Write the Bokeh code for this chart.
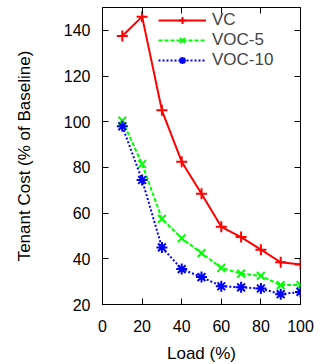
from bokeh.plotting import figure
from bokeh.models import LinearAxis, Legend, LegendItem, Range1d, FixedTicker
from bokeh.embed import file_html
from bokeh.resources import INLINE

load = [10, 20, 30, 40, 50, 60, 70, 80, 90, 100]
vc = [137.5, 146, 105, 82.5, 68.5, 54, 49.5, 44, 38.5, 37.5]
voc5 = [100.5, 81.5, 57.5, 49, 42.5, 36, 33.5, 32.5, 28.5, 28.5]
voc10 = [98, 74.5, 45, 35.5, 32, 28, 27.5, 27, 24.5, 25.5]
x_ticks = [0, 20, 40, 60, 80, 100]
y_ticks = [20, 40, 60, 80, 100, 120, 140]

FONT = "Liberation Sans"

p = figure(frame_width=198, frame_height=297, output_backend="svg", toolbar_location=None,
           x_range=Range1d(0, 100), y_range=Range1d(20, 150),
           min_border_left=102, min_border_right=20, min_border_top=7, min_border_bottom=58)
p.grid.visible = False
p.outline_line_color = "black"
p.outline_line_width = 1
p.background_fill_color = "white"
p.border_fill_color = "white"

for ax, ticks in ((p.xaxis[0], x_ticks), (p.yaxis[0], y_ticks)):
    ax.ticker = FixedTicker(ticks=ticks)
    ax.major_tick_in = 6
    ax.major_tick_out = 0
    ax.minor_tick_line_color = None
    ax.major_label_text_font = FONT
    ax.major_label_text_font_size = "16px"
    ax.major_label_text_color = "black"
    ax.axis_label_text_font = FONT
    ax.axis_label_text_font_size = "17px"
    ax.axis_label_text_font_style = "normal"
    ax.axis_label_text_color = "black"
    ax.axis_line_color = "black"

p.xaxis.major_label_standoff = 15
p.yaxis.major_label_standoff = 12
p.xaxis.axis_label = "Load (%)"
p.yaxis.axis_label = "Tenant Cost (% of Baseline)"
p.xaxis.axis_label_standoff = 9
p.yaxis.axis_label_standoff = 27

top = LinearAxis(ticker=FixedTicker(ticks=x_ticks), major_tick_in=6, major_tick_out=0,
                 minor_tick_line_color=None, major_label_overrides={t: "" for t in x_ticks},
                 major_label_text_font_size="1px", major_label_standoff=0, axis_line_color=None)
right = LinearAxis(ticker=FixedTicker(ticks=y_ticks), major_tick_in=6, major_tick_out=0,
                   minor_tick_line_color=None, major_label_overrides={t: "" for t in y_ticks},
                   major_label_text_font_size="1px", major_label_standoff=0, axis_line_color=None)
p.add_layout(top, "above")
p.add_layout(right, "right")

series = [
    ("VC", vc, "#ff0000", "solid", "cross"),
    ("VOC-5", voc5, "#00ff00", "4 2", "x"),
    ("VOC-10", voc10, "#0000ff", "2 2", "asterisk"),
]
items = []
for name, ys, color, dash, marker in series:
    l = p.line(load, ys, line_color=color, line_width=2, line_dash=dash)
    m = p.scatter(load, ys, marker=marker, size=11, line_color=color, line_width=2)
    items.append(LegendItem(label=name, renderers=[l, m]))

legend = Legend(items=items, location=(56, 234), padding=0, spacing=0,
                glyph_width=48, glyph_height=18, label_height=18,
                label_text_font=FONT, label_text_font_size="17px",
                label_standoff=6, background_fill_alpha=0, border_line_alpha=0,
                margin=0)
p.add_layout(legend)

open("out.html", "w").write(file_html(p, INLINE))
